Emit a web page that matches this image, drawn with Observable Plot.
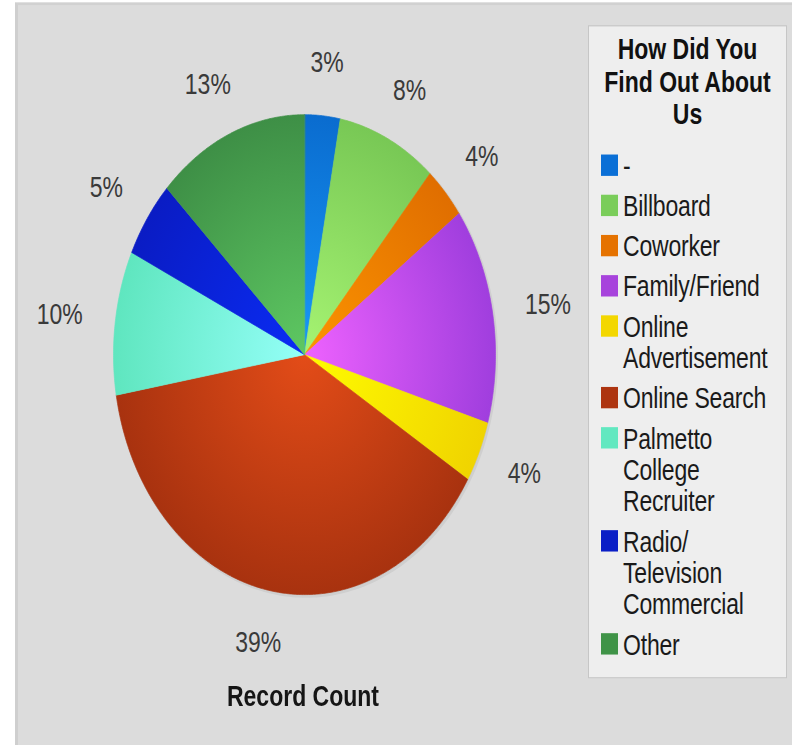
<!DOCTYPE html>
<html>
<head>
<meta charset="utf-8">
<script src="https://cdn.jsdelivr.net/npm/d3@7"></script>
<script src="https://cdn.jsdelivr.net/npm/@observablehq/plot@0.6"></script>
<style>
  html, body { margin: 0; padding: 0; background: #ffffff; overflow: hidden; width: 792px; height: 745px; }
  #stage { position: absolute; left: 0; top: 0; width: 792px; height: 593px; transform-origin: 0 0;
           font-family: "Liberation Sans", Arial, Helvetica, sans-serif; }
  #panel { position: absolute; left: 15px; top: 2.4px; right: 0; bottom: 0; background: #dcdcdc;
           border-left: 3px solid #cfcfcf; border-top: 2px solid #d1d1d1; }
  #chart { position: absolute; left: 0; top: 0; }
  #caption { position: absolute; left: 0; width: 606px; top: 541px; text-align: center;
             font-weight: bold; font-size: 23px; line-height: 26px; color: #151515; }
  #legend { position: absolute; left: 588px; top: 20px; width: 199px; height: 520px; box-sizing: border-box;
            background: #eeeeee; border: 1px solid #c6c6c6; }
  #legend .ttl { text-align: center; font-weight: bold; font-size: 23px; line-height: 26px; color: #111;
                 padding-top: 5px; white-space: pre-line; margin-bottom: 16px; }
  #legend .item { display: flex; align-items: flex-start; padding-left: 12px; margin-bottom: 7px; }
  #legend .sw { width: 17px; height: 17px; margin-top: 3px; margin-right: 5px; flex: none; }
  #legend .lb { font-size: 23px; line-height: 25px; color: #1a1a1a; white-space: pre-line; letter-spacing: -0.2px; }
</style>
</head>
<body>
<div id="stage">
  <div id="panel"></div>
  <div id="chart"></div>
  <div id="caption"></div>
  <div id="legend"></div>
</div>
<script>
// ---- data ----
const categories = ["-", "Billboard", "Coworker", "Family/Friend", "Online Advertisement",
  "Online Search", "Palmetto College Recruiter", "Radio/Television Commercial", "Other"];
const legendLabels = ["-", "Billboard", "Coworker", "Family/Friend", "Online\nAdvertisement",
  "Online Search", "Palmetto\nCollege\nRecruiter", "Radio/\nTelevision\nCommercial", "Other"];
const shares = [3.0, 8.4, 3.6, 14.6, 4.1, 38.6, 9.7, 5.2, 12.8];
const innerColors = ["#1898f8", "#a6f472", "#fc9400", "#ee62fe", "#fffc00", "#e34c18", "#94fff8", "#0a2cf4", "#5ec862"];
const outerColors = ["#0a6ccf", "#78c855", "#e06e00", "#a03ede", "#f0d400", "#a8320f", "#5fe6bf", "#0a1cc4", "#3e8f46"];
const swatchColors = ["#0a6fd6", "#7acd5a", "#e57200", "#a743dc", "#f3d700", "#ad3410", "#62e8c0", "#0a1ec6", "#3f9347"];
const legendTitle = "How Did You\nFind Out About\nUs";
const chartTitle = "Record Count";

// ---- layout constants ----
const W = 792, H = 593, S = 745 / H;
const R = 191;                 // pie radius in px (pre-stretch)
const CX = 304, CY = 354 / S;  // pie centre

document.getElementById("stage").style.transform = `scale(1, ${S})`;

// ---- slice geometry from data ----
const total = d3.sum(shares);
let acc = 0;
const slices = shares.map((v, i) => {
  const a0 = acc / total * 2 * Math.PI; acc += v;
  const a1 = acc / total * 2 * Math.PI;
  return {i, name: categories[i], v, a0, a1, mid: (a0 + a1) / 2};
});
const pts = [];
for (const s of slices) {
  const n = Math.max(2, Math.ceil((s.a1 - s.a0) / (Math.PI / 360)));
  const f = `url(#pg${s.i})`;
  pts.push({name: s.name, fill: f, x: 0, y: 0});
  for (let k = 0; k <= n; k++) {
    const a = s.a0 + (s.a1 - s.a0) * k / n;
    pts.push({name: s.name, fill: f, x: Math.sin(a), y: Math.cos(a)});
  }
}
const ring = d3.range(0, 361).map(d => ({x: Math.sin(d * Math.PI / 180), y: Math.cos(d * Math.PI / 180)}));

// label positions: text box edge ~33px outside the rim
const labels = slices.map(s => {
  const t = Math.round(s.v / total * 100) + "%";
  const hw = (t.length - 1) * 6.4 + 10.2, hh = 9.5, d = 33;
  return {
    t,
    x: ((R + d + hw) * Math.sin(s.mid)) / R,
    y: ((R + d + hh) * Math.cos(s.mid)) / R
  };
});

const plot = Plot.plot({
  width: W, height: H, margin: 0,
  x: {domain: [-1, 1], range: [CX - R, CX + R], axis: null},
  y: {domain: [-1, 1], range: [CY + R, CY - R], axis: null},
  color: {type: "identity"},
  style: {background: "transparent", fontFamily: "'Liberation Sans', Arial, Helvetica, sans-serif", overflow: "visible"},
  marks: [
    Plot.line(ring, {x: "x", y: "y", fill: "#c8c8c8", stroke: "#cfcfcf", strokeWidth: 2, curve: "linear-closed", dx: 1.5, dy: 1.5}),
    Plot.line(pts, {x: "x", y: "y", z: "name", fill: "fill", stroke: "fill", strokeWidth: 0.6, curve: "linear-closed"}),
    Plot.text(labels, {x: "x", y: "y", text: "t", fontSize: 23, fill: "#3a3a3a"})
  ]
});

// radial gradients centred on the pie
const xs = plot.scale("x"), ys = plot.scale("y");
const gx = xs.apply(0), gy = ys.apply(0), gr = xs.apply(1) - gx;
const defs = d3.select(plot).insert("defs", ":first-child");
innerColors.forEach((c, i) => {
  const g = defs.append("radialGradient").attr("id", `pg${i}`)
    .attr("gradientUnits", "userSpaceOnUse").attr("cx", gx).attr("cy", gy).attr("r", gr);
  g.append("stop").attr("offset", "0%").attr("stop-color", c);
  g.append("stop").attr("offset", "100%").attr("stop-color", outerColors[i]);
});
document.getElementById("chart").appendChild(plot);

document.getElementById("caption").textContent = chartTitle;

// legend
const lg = d3.select("#legend");
lg.append("div").attr("class", "ttl").text(legendTitle);
categories.forEach((c, i) => {
  const it = lg.append("div").attr("class", "item");
  it.append("div").attr("class", "sw").style("background", swatchColors[i]);
  it.append("div").attr("class", "lb").text(legendLabels[i]);
});
</script>
</body>
</html>
